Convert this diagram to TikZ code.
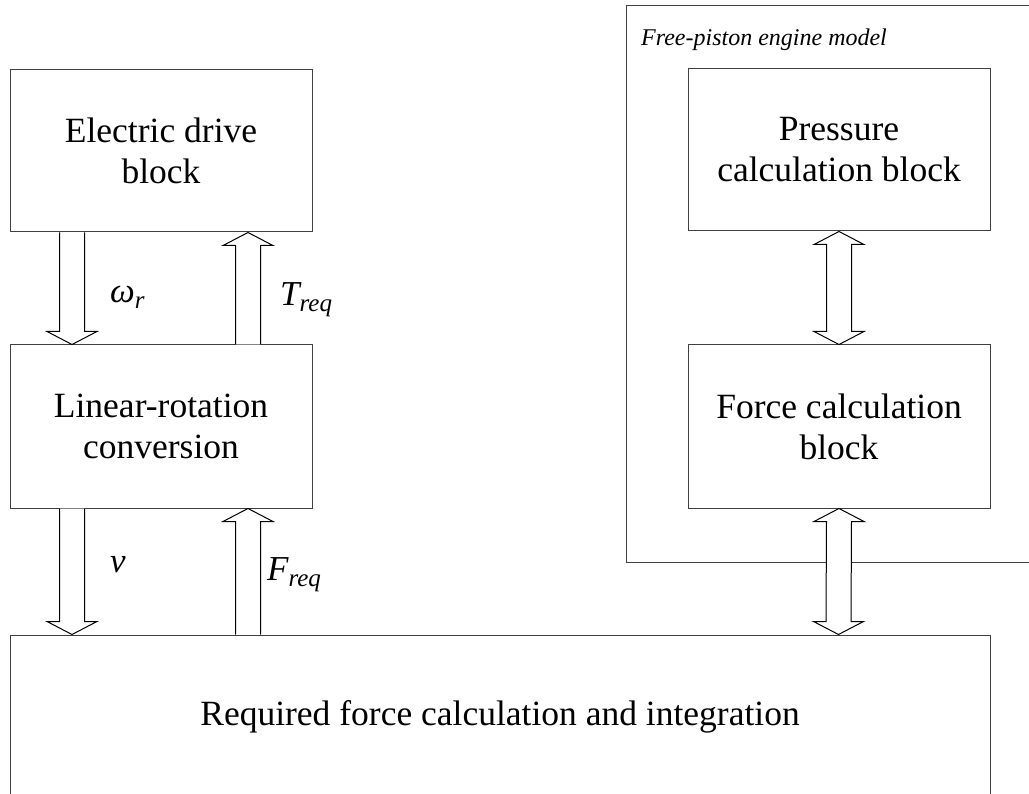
\documentclass[tikz,border=0pt]{standalone}
\usepackage{fontspec}
\setmainfont{Liberation Serif}
\usetikzlibrary{calc}
\newcommand\SubT[1]{\raisebox{-6pt}{\fontsize{25}{25}\selectfont #1}}
\begin{document}
\begin{tikzpicture}[x=1pt,y=-1pt,
  blk/.style={draw=black!75, line width=1pt, minimum width=302pt, inner sep=0pt,
    align=center, font=\fontsize{35.5}{41}\selectfont},
  harr/.style={draw=black, line width=1pt, fill=white, line join=miter},
  lbl/.style={anchor=base west, inner sep=0pt, font=\fontsize{35}{42}\selectfont\itshape},
  frm/.style={draw=black!75, line width=1pt}]
\useasboundingbox (0,0) rectangle (1029,794);
% frame of the free-piston engine model
\draw[frm] (1045,562) -| (626,6) -- (1045,6);
\node[anchor=base west, inner sep=0pt, font=\fontsize{24}{28}\selectfont\itshape] (ttl) at (641,46) {Free-piston engine model};
% blocks
\node[blk, minimum height=162pt] (ed) at (161,151) {Electric drive\\block};
\node[blk, minimum height=163pt] (lr) at (161,426.5) {Linear-rotation\\conversion};
\node[blk, minimum height=162pt] (pr) at (839,150) {Pressure\\calculation block};
\node[blk, minimum height=163pt] (fc) at (839,426.5) {Force calculation\\block};
\node[blk, minimum width=980pt, minimum height=164pt] (rf) at (500,717) {Required force calculation and integration};
% omega arrow (down)
\coordinate (w1) at ($(ed.south west)+(62.5,0)$);
\coordinate (w2) at ($(lr.north west)+(62.5,0)$);
\draw[harr] ($(w1)+(-12.5,0)$) -- ($(w2)+(-12.5,-13)$) -- ($(w2)+(-25,-13)$) -- (w2)
  -- ($(w2)+(25,-13)$) -- ($(w2)+(12.5,-13)$) -- ($(w1)+(12.5,0)$);
% T arrow (up)
\coordinate (t1) at ($(ed.south west)+(238.5,0)$);
\coordinate (t2) at ($(lr.north west)+(238.5,0)$);
\draw[harr] ($(t2)+(-12.5,0)$) -- ($(t1)+(-12.5,13)$) -- ($(t1)+(-25,13)$) -- (t1)
  -- ($(t1)+(25,13)$) -- ($(t1)+(12.5,13)$) -- ($(t2)+(12.5,0)$);
% v arrow (down)
\coordinate (v1) at ($(lr.south west)+(62.5,0)$);
\coordinate (v2) at ($(rf.north west)+(62.5,0)$);
\draw[harr] ($(v1)+(-12.5,0)$) -- ($(v2)+(-12.5,-13)$) -- ($(v2)+(-25,-13)$) -- (v2)
  -- ($(v2)+(25,-13)$) -- ($(v2)+(12.5,-13)$) -- ($(v1)+(12.5,0)$);
% F arrow (up)
\coordinate (f1) at ($(lr.south west)+(238.5,0)$);
\coordinate (f2) at ($(rf.north west)+(238.5,0)$);
\draw[harr] ($(f2)+(-12.5,0)$) -- ($(f1)+(-12.5,13)$) -- ($(f1)+(-25,13)$) -- (f1)
  -- ($(f1)+(25,13)$) -- ($(f1)+(12.5,13)$) -- ($(f2)+(12.5,0)$);
% double arrow pressure <-> force
\coordinate (d1) at (pr.south);
\coordinate (d2) at (fc.north);
\draw[harr] (d1) -- ($(d1)+(25,13)$) -- ($(d1)+(12.5,13)$) -- ($(d2)+(12.5,-13)$)
  -- ($(d2)+(25,-13)$) -- (d2) -- ($(d2)+(-25,-13)$) -- ($(d2)+(-12.5,-13)$)
  -- ($(d1)+(-12.5,13)$) -- ($(d1)+(-25,13)$) -- cycle;
% double arrow force <-> required force
\coordinate (e1) at (fc.south);
\coordinate (e2) at ($(rf.north west)+(829,0)$);
\draw[harr] (e1) -- ($(e1)+(25,13)$) -- ($(e1)+(12.5,13)$) -- ($(e2)+(12.5,-13)$)
  -- ($(e2)+(25,-13)$) -- (e2) -- ($(e2)+(-25,-13)$) -- ($(e2)+(-12.5,-13)$)
  -- ($(e1)+(-12.5,13)$) -- ($(e1)+(-25,13)$) -- cycle;
% labels
\node[lbl] (lw) at (110,303) {ω\SubT{r}};
\node[lbl] (lt) at (280,306) {T\SubT{req}};
\node[lbl] (lv) at (110,572) {v};
\node[lbl] (lf) at (267,580) {F\SubT{req}};
\end{tikzpicture}
\end{document}
